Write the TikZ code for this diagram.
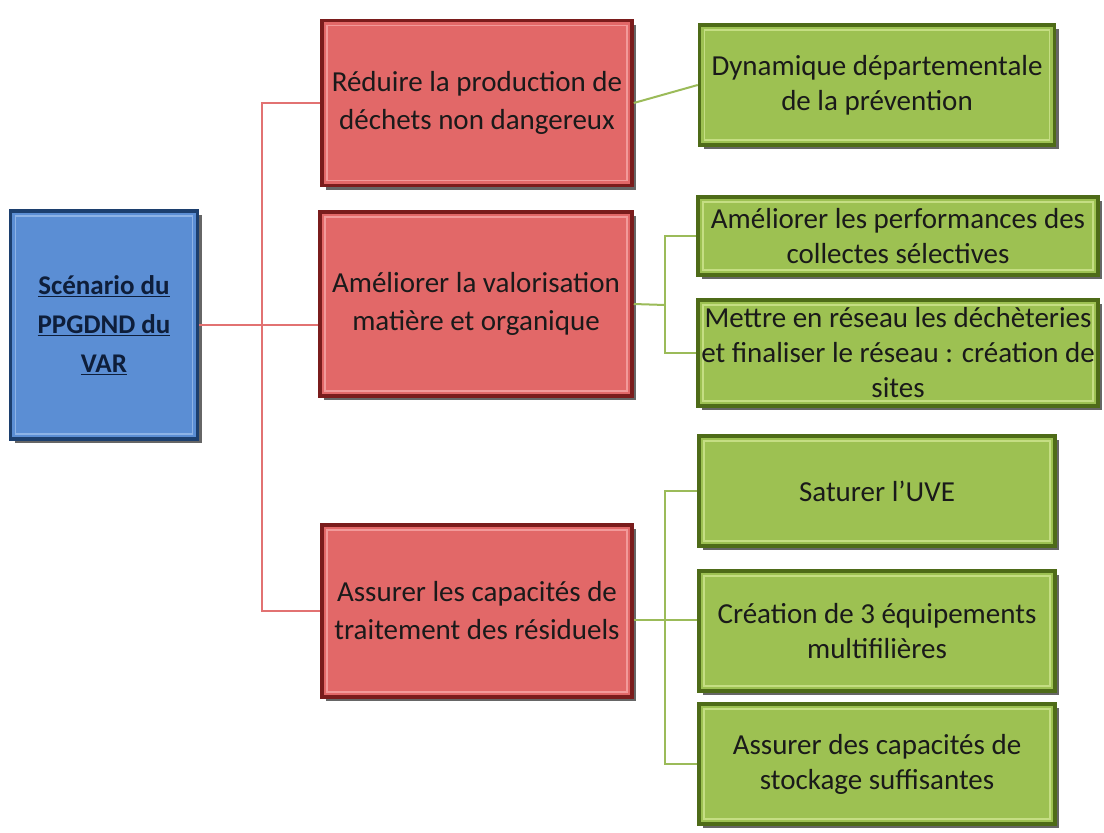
\documentclass[tikz,border=0pt]{standalone}
\usepackage{fontspec}
\setmainfont{Carlito}
\usetikzlibrary{shadows}
\definecolor{bluefill}{HTML}{5B8ED4}
\definecolor{blueedge}{HTML}{1C3F6E}
\definecolor{bluelight}{HTML}{8DB3E6}
\definecolor{redfill}{HTML}{E26868}
\definecolor{rededge}{HTML}{7A1C1C}
\definecolor{redlight}{HTML}{F29A9A}
\definecolor{greenfill}{HTML}{9DC152}
\definecolor{greenedge}{HTML}{4E6B18}
\definecolor{greenlight}{HTML}{C5DE83}
\definecolor{redline}{HTML}{E27272}
\definecolor{greenline}{HTML}{9BBB59}
\definecolor{txt}{HTML}{1A1A1A}
\definecolor{roottxt}{HTML}{0E1E3A}
\tikzset{
  bevel/.style={draw=#1edge, line width=3.5pt, fill=#1fill, align=center,
    inner sep=2pt, text=txt,
    drop shadow={shadow xshift=4pt, shadow yshift=-4pt, fill=black!75, opacity=0.8},
    path picture={\draw[#1light, line width=1.6pt]
        ([shift={(5pt,-5pt)}]path picture bounding box.north west) rectangle
        ([shift={(-5pt,5pt)}]path picture bounding box.south east);}},
  rootbox/.style={bevel=blue, text=roottxt, font=\fontsize{27}{39}\selectfont\bfseries},
  redbox/.style={bevel=red, font=\fontsize{29}{38}\selectfont},
  greenbox/.style={bevel=green, font=\fontsize{29}{35}\selectfont},
  redconn/.style={draw=redline, line width=2pt},
  greenconn/.style={draw=greenline, line width=2pt},
}
\begin{document}
\begin{tikzpicture}[x=1pt,y=-1pt]
\useasboundingbox[fill=white] (0,0) rectangle (1104,833);

\node[rootbox, minimum width=187pt, minimum height=228pt] (root) at (104,325)
  {\underline{Scénario du}\\\underline{PPGDND du}\\\underline{VAR}};

\node[redbox, minimum width=310pt, minimum height=165pt] (r1) at (477,103)
  {Réduire la production de\\déchets non dangereux};
\node[redbox, minimum width=312pt, minimum height=184pt] (r2) at (476,304)
  {Améliorer la valorisation\\matière et organique};
\node[redbox, minimum width=310pt, minimum height=172pt] (r3) at (477,611)
  {Assurer les capacités de\\traitement des résiduels};

\node[greenbox, minimum width=355pt, minimum height=120pt] (g1) at (877,85)
  {Dynamique départementale\\de la prévention};
\node[greenbox, minimum width=400pt, minimum height=78pt] (g2) at (898,236)
  {Améliorer les performances des\\collectes sélectives};
\node[greenbox, minimum width=400pt, minimum height=106pt] (g3) at (898,353)
  {Mettre en réseau les déchèteries\\et finaliser le réseau : création de\\sites};
\node[greenbox, minimum width=356pt, minimum height=110pt] (g4) at (877,491)
  {Saturer l’UVE};
\node[greenbox, minimum width=356pt, minimum height=120pt] (g5) at (877,631)
  {Création de 3 équipements\\multifilières};
\node[greenbox, minimum width=356pt, minimum height=120pt] (g6) at (877,764)
  {Assurer des capacités de\\stockage suffisantes};

% red connectors
\coordinate (rj) at (262,325);
\draw[redconn] (root.east) -- (rj);
\draw[redconn] (rj) |- (r1.west);
\draw[redconn] (rj) -- (rj -| r2.west);
\draw[redconn] (rj) |- (r3.west);

% green connectors
\draw[greenconn] (r1.east) -- (g1.west);
\coordinate (gj2) at (665,305);
\draw[greenconn] (r2.east) -- (gj2);
\draw[greenconn] (gj2) |- (g2.west);
\draw[greenconn] (gj2) |- (g3.west);
\coordinate (gj3) at (665,620);
\draw[greenconn] (r3.east |- gj3) -- (gj3);
\draw[greenconn] (gj3) |- (g4.west);
\draw[greenconn] (gj3) -- (gj3 -| g5.west);
\draw[greenconn] (gj3) |- (g6.west);
\end{tikzpicture}
\end{document}
